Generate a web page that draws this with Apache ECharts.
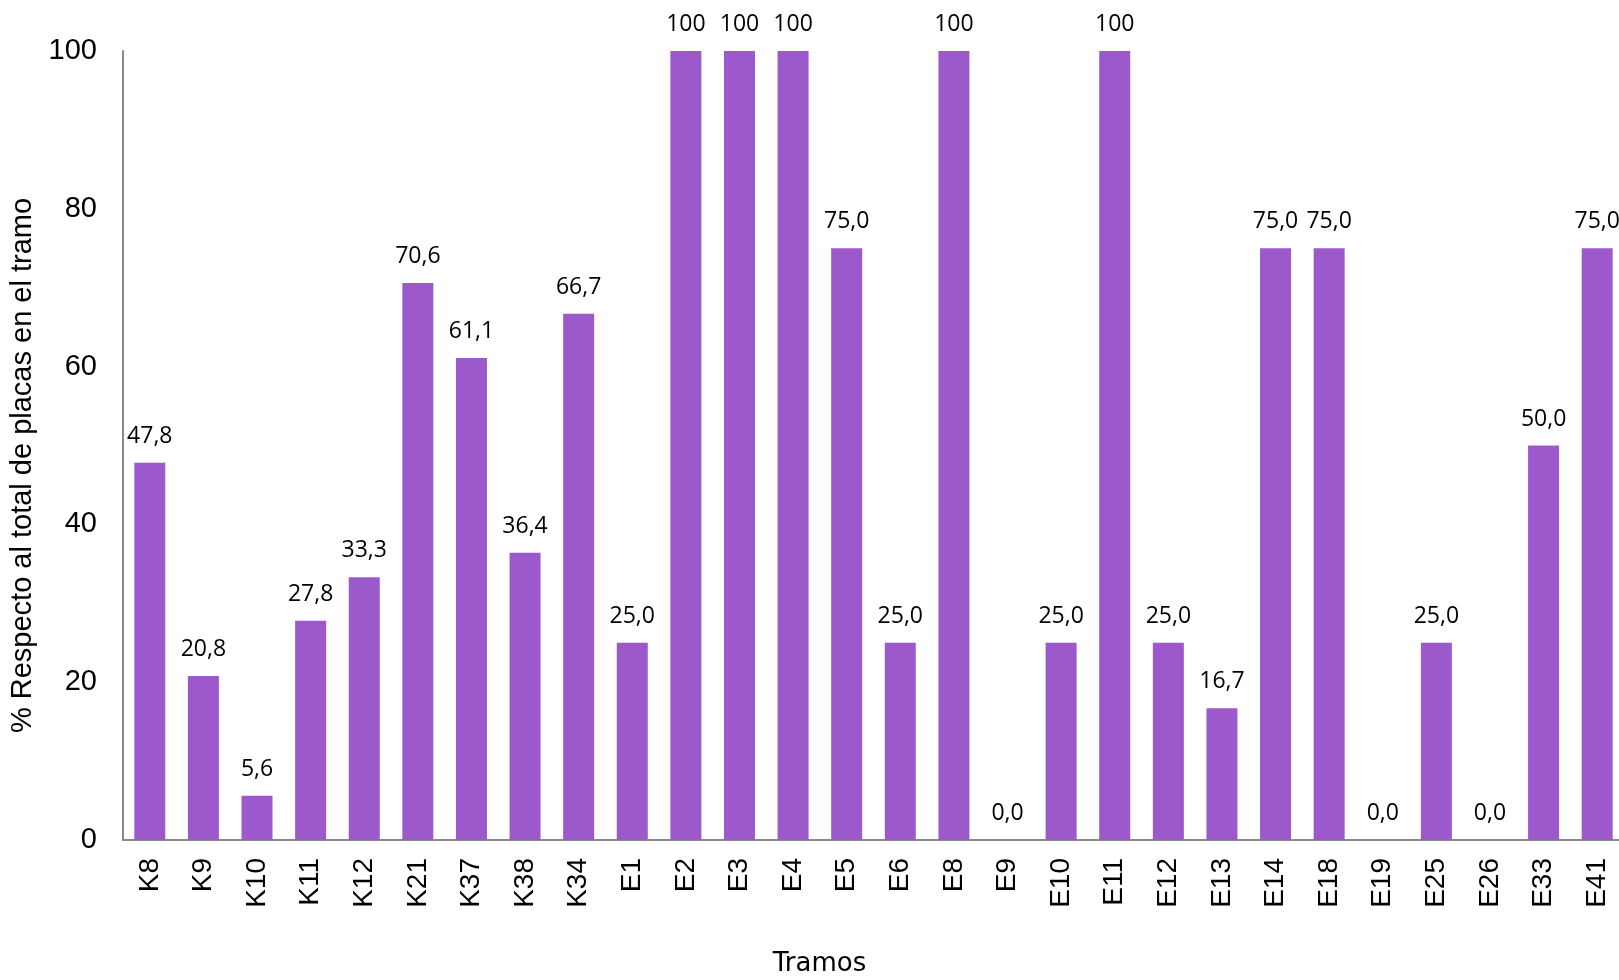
<!DOCTYPE html>
<html>
<head>
<meta charset="utf-8">
<script src="https://cdn.jsdelivr.net/npm/echarts@6/dist/echarts.min.js"></script>
<style>
html,body{margin:0;padding:0;background:#fff;overflow:hidden;}
#chart{width:1619px;height:980px;}
</style>
</head>
<body>
<div id="chart"></div>
<script>
const categories = ['K8','K9','K10','K11','K12','K21','K37','K38','K34','E1','E2','E3','E4','E5','E6','E8','E9','E10','E11','E12','E13','E14','E18','E19','E25','E26','E33','E41'];
const values = [47.8,20.8,5.6,27.8,33.3,70.6,61.1,36.4,66.7,25.0,100,100,100,75.0,25.0,100,0.0,25.0,100,25.0,16.7,75.0,75.0,0.0,25.0,0.0,50.0,75.0];
const yTicks = [0,20,40,60,80,100];
const xTitle = 'Tramos';
const yTitle = '% Respecto al total de placas en el tramo';

const chart = echarts.init(document.getElementById('chart'), null, {renderer:'canvas'});
chart.setOption({
  animation:false,
  backgroundColor:'#ffffff',
  grid:{left:123, right:-5, top:51, bottom:140, containLabel:false, outerBoundsMode:'none'},
  xAxis:{
    type:'category',
    data:categories,
    name:xTitle,
    nameLocation:'middle',
    nameGap:111,
    nameTextStyle:{fontFamily:'DejaVu Sans', fontSize:26, color:'#000', padding:[0,108,0,0]},
    axisLine:{lineStyle:{color:'#898989', width:2}},
    axisTick:{show:false},
    axisLabel:{rotate:90, margin:18, fontFamily:'Liberation Sans, Arial', fontSize:28, color:'#000', interval:0}
  },
  yAxis:{
    type:'value',
    min:yTicks[0], max:yTicks[yTicks.length-1], interval:20,
    name:yTitle,
    nameLocation:'middle',
    nameGap:81,
    nameRotate:90,
    nameTextStyle:{fontFamily:'Liberation Sans, Arial', fontSize:29, color:'#000', padding:[0,40,0,0]},
    axisLine:{show:true, lineStyle:{color:'#898989', width:2}},
    axisTick:{show:false},
    splitLine:{show:false},
    axisLabel:{margin:26, fontFamily:'Liberation Sans, Arial', fontSize:29, color:'#000'}
  },
  series:[{
    type:'bar',
    data:values,
    barWidth:31,
    itemStyle:{color:'#9B59CB'},
    label:{
      show:true, position:'top', distance:15,
      fontFamily:'Open Sans', fontSize:23, color:'#000',
      formatter:p => p.value === 100 ? '100' : p.value.toFixed(1).replace('.', ',')
    }
  }]
});
</script>
</body>
</html>
